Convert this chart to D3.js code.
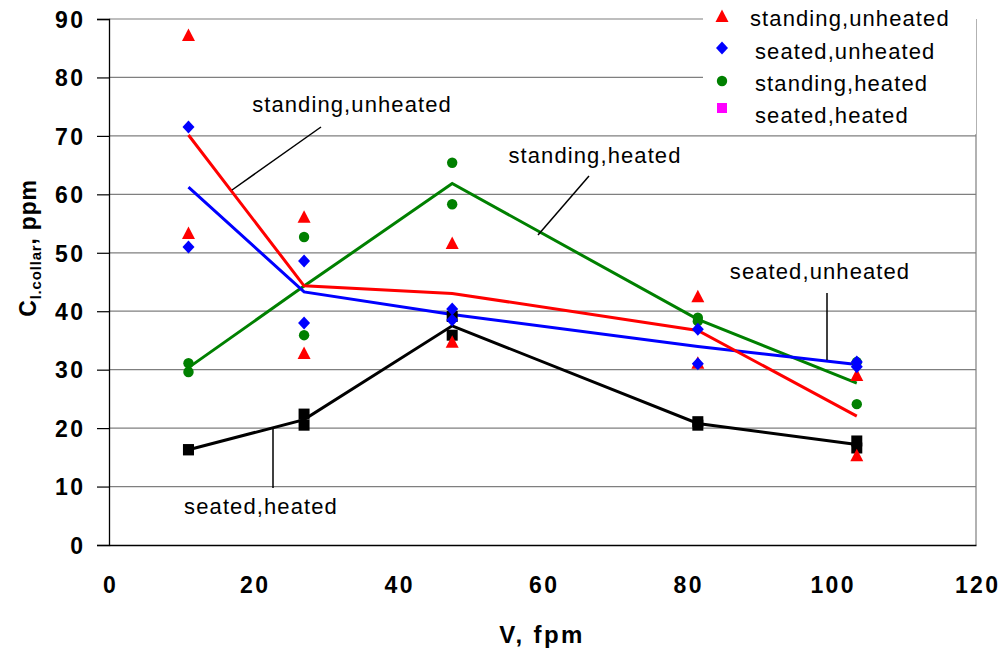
<!DOCTYPE html>
<html>
<head>
<meta charset="utf-8">
<script src="https://cdn.jsdelivr.net/npm/d3@7"></script>
<style>
  html, body { margin: 0; padding: 0; background: #fff; }
  svg { display: block; font-family: "Liberation Sans", Arial, sans-serif; }
</style>
</head>
<body>
<svg id="chart" width="1008" height="655"></svg>
<script>
// Air velocity at the collar (fpm)
const velocity = [11, 27, 47.5, 81.5, 103.5];

// Two replicate measurements per velocity for each posture / heating condition
const standingUnheatedA = [87.1, 56.0, 51.5, 42.4, 28.9];
const standingUnheatedB = [53.2, 32.7, 34.6, 31.0, 15.2];
const seatedUnheatedA   = [71.5, 48.6, 40.4, 36.9, 31.3];
const seatedUnheatedB   = [51.0, 38.0, 38.5, 31.0, 30.5];
const standingHeatedA   = [31.1, 52.7, 65.4, 38.9, 31.3];
const standingHeatedB   = [29.6, 35.9, 58.3, 38.3, 24.1];
const seatedHeatedA     = [16.3, 22.4, 39.1, 21.1, 17.8];
const seatedHeatedB     = [16.3, 20.5, 35.9, 20.5, 16.6];

const xTicks = [0, 20, 40, 60, 80, 100, 120];
const yTicks = [0, 10, 20, 30, 40, 50, 60, 70, 80, 90];

const legendLabels = ["standing,unheated", "seated,unheated", "standing,heated", "seated,heated"];

const margin = { left: 109, right: 1008 - 976, top: 19, bottom: 655 - 545 };
const W = 1008, H = 655;
const svg = d3.select("#chart");

const x = d3.scaleLinear().domain([0, 120]).range([margin.left, W - margin.right]);
const y = d3.scaleLinear().domain([0, 90]).range([H - margin.bottom, margin.top]);

// gridlines
svg.append("g")
  .selectAll("line")
  .data(yTicks.filter(d => d > 0))
  .join("line")
  .attr("x1", x(0)).attr("x2", x(120))
  .attr("y1", d => y(d)).attr("y2", d => y(d))
  .attr("stroke", "#7f7f7f").attr("stroke-width", 1.2);

// right edge of plot area
svg.append("line")
  .attr("x1", x(120)).attr("x2", x(120))
  .attr("y1", y(90)).attr("y2", y(0))
  .attr("stroke", "#7f7f7f").attr("stroke-width", 1.2);

// axes
const xAxis = svg.append("g")
  .attr("transform", `translate(0,${y(0)})`)
  .call(d3.axisBottom(x).tickValues(xTicks).tickSize(0).tickPadding(0));
const yAxis = svg.append("g")
  .attr("transform", `translate(${x(0)},0)`)
  .call(d3.axisLeft(y).tickValues(yTicks).tickSize(12).tickPadding(14));
[xAxis, yAxis].forEach(a => {
  a.select(".domain").attr("stroke", "#000").attr("stroke-width", 1.3);
  a.selectAll(".tick line").attr("stroke", "#000").attr("stroke-width", 1.2);
  a.selectAll(".tick text")
    .attr("font-family", "Liberation Sans, Arial, sans-serif")
    .attr("font-size", 23).attr("font-weight", "bold")
    .attr("letter-spacing", 2.4).attr("fill", "#000");
});
xAxis.selectAll(".tick text").attr("y", 48).attr("dy", 0).attr("dx", 1.2);
yAxis.selectAll(".tick text").attr("dy", "0.36em").attr("dx", 2.4);

// axis titles
svg.append("text")
  .attr("x", 542).attr("y", 643)
  .attr("text-anchor", "middle")
  .attr("font-size", 24).attr("font-weight", "bold")
  .attr("letter-spacing", 2.4)
  .text("V, fpm");

const yTitle = svg.append("text")
  .attr("transform", `translate(36,248) rotate(-90)`)
  .attr("text-anchor", "middle")
  .attr("font-size", 23).attr("font-weight", "bold")
  .attr("letter-spacing", 0.8);
yTitle.append("tspan").text("C");
yTitle.append("tspan").attr("font-size", 15).attr("dy", 5).text("l.collar");
yTitle.append("tspan").attr("dy", -5).text(", ppm");

// series definitions
const series = [
  { name: "standing,unheated", a: standingUnheatedA, b: standingUnheatedB, color: "#ff0000", shape: "triangle" },
  { name: "seated,unheated",   a: seatedUnheatedA,   b: seatedUnheatedB,   color: "#0000ff", shape: "diamond" },
  { name: "standing,heated",   a: standingHeatedA,   b: standingHeatedB,   color: "#008000", shape: "circle" },
  { name: "seated,heated",     a: seatedHeatedA,     b: seatedHeatedB,     color: "#000000", shape: "square" }
];

const line = d3.line().x(d => x(d[0])).y(d => y(d[1]));

// mean lines through the replicate pairs
const lineOrder = ["seated,heated", "standing,heated", "seated,unheated", "standing,unheated"];
lineOrder.forEach(n => {
  const s = series.find(t => t.name === n);
  const pts = velocity.map((v, i) => [v, (s.a[i] + s.b[i]) / 2]);
  svg.append("path")
    .attr("d", line(pts))
    .attr("fill", "none")
    .attr("stroke", s.color)
    .attr("stroke-width", 3)
    .attr("stroke-linejoin", "miter");
});

// marker shapes
function marker(sel, shape, color) {
  if (shape === "triangle") {
    sel.append("path").attr("d", "M0,-7.5L6.5,5L-6.5,5Z").attr("fill", color);
  } else if (shape === "diamond") {
    sel.append("path").attr("d", "M0,-6.5L6,0L0,6.5L-6,0Z").attr("fill", color);
  } else if (shape === "circle") {
    sel.append("circle").attr("r", 5.2).attr("fill", color);
  } else {
    sel.append("rect").attr("x", -5.5).attr("y", -5.5).attr("width", 11).attr("height", 11).attr("fill", color);
  }
}

// markers: black squares first, then green, red, blue on top
const markerOrder = ["seated,heated", "standing,heated", "standing,unheated", "seated,unheated"];
markerOrder.forEach(n => {
  const s = series.find(t => t.name === n);
  const pts = [];
  velocity.forEach((v, i) => { pts.push([v, s.a[i]]); pts.push([v, s.b[i]]); });
  pts.forEach(p => {
    const g = svg.append("g").attr("transform", `translate(${x(p[0])},${y(p[1])})`);
    marker(g, s.shape, s.color);
  });
});

// callout labels with leader lines
const callouts = [
  { text: "standing,unheated", tx: 352, ty: 112, x1: 321, y1: 127, x2: 232, y2: 190 },
  { text: "standing,heated",   tx: 595, ty: 163, x1: 589, y1: 176, x2: 538, y2: 235 },
  { text: "seated,unheated",   tx: 820, ty: 279, x1: 827, y1: 293, x2: 827, y2: 360 },
  { text: "seated,heated",     tx: 261, ty: 514, x1: 273, y1: 428, x2: 273, y2: 488 }
];
callouts.forEach(c => {
  svg.append("line")
    .attr("x1", c.x1).attr("y1", c.y1).attr("x2", c.x2).attr("y2", c.y2)
    .attr("stroke", "#000").attr("stroke-width", 1.5);
  svg.append("text")
    .attr("x", c.tx).attr("y", c.ty)
    .attr("text-anchor", "middle")
    .attr("font-size", 22).attr("letter-spacing", 1.1)
    .text(c.text);
});

// legend
const legend = svg.append("g");
legend.append("rect")
  .attr("x", 703).attr("y", 0).attr("width", 273).attr("height", 134)
  .attr("fill", "#fff");
const legendMarkerColors = ["#ff0000", "#0000ff", "#008000", "#ff00ff"];
const legendShapes = ["triangle", "diamond", "circle", "square"];
const legendRows = [
  { my: 17, ty: 26, tx: 750 },
  { my: 48, ty: 59, tx: 755 },
  { my: 81, ty: 91, tx: 755 },
  { my: 108, ty: 123, tx: 755 }
];
legendLabels.forEach((lab, i) => {
  const r = legendRows[i];
  const g = legend.append("g").attr("transform", `translate(722,${r.my})`);
  marker(g, legendShapes[i], legendMarkerColors[i]);
  if (legendShapes[i] === "square") g.select("rect").attr("x", -5).attr("y", -5).attr("width", 10).attr("height", 10);
  legend.append("text")
    .attr("x", r.tx).attr("y", r.ty)
    .attr("font-size", 22).attr("letter-spacing", 1.1)
    .text(lab);
});
</script>
</body>
</html>
